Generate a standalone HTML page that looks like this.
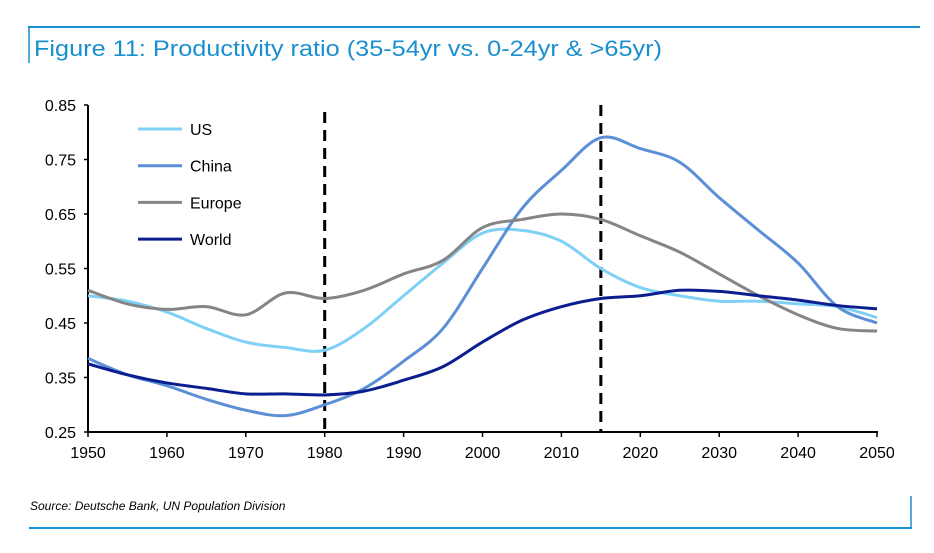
<!DOCTYPE html>
<html><head><meta charset="utf-8"><style>
body{margin:0;background:#fff;width:934px;height:553px;overflow:hidden;font-family:"Liberation Sans",Arial,sans-serif}
</style></head><body>
<svg width="934" height="553" style="position:absolute;left:0;top:0">
<line x1="28" y1="27" x2="920" y2="27" stroke="#1a8fcf" stroke-width="2"/>
<line x1="29" y1="27" x2="29" y2="63" stroke="#1a8fcf" stroke-width="1.5"/>
<text x="34" y="56" font-size="22" fill="#1a8fcf" textLength="628" lengthAdjust="spacingAndGlyphs">Figure 11: Productivity ratio (35-54yr vs. 0-24yr &amp; &gt;65yr)</text>
<g id="axes"></g>
<g id="series"></g>
<g id="legend"></g>
<text x="30" y="510" font-size="12" font-style="italic" fill="#000">Source: Deutsche Bank, UN Population Division</text>
<line x1="29" y1="528" x2="912" y2="528" stroke="#1a8fcf" stroke-width="2"/>
<line x1="911" y1="496" x2="911" y2="528" stroke="#1a8fcf" stroke-width="1.5"/>
</svg>
<script>
const years=[1950,1955,1960,1965,1970,1975,1980,1985,1990,1995,2000,2005,2010,2015,2020,2025,2030,2035,2040,2045,2050];
const usVals=[.50,.49,.47,.44,.415,.405,.40,.44,.50,.56,.615,.62,.60,.55,.515,.50,.49,.49,.485,.48,.46];
const chinaVals=[.385,.355,.335,.31,.29,.28,.30,.33,.38,.44,.55,.66,.73,.79,.77,.745,.68,.62,.56,.48,.45];
const europeVals=[.51,.485,.475,.48,.465,.505,.495,.51,.54,.565,.625,.64,.65,.64,.61,.58,.54,.50,.465,.44,.435];
const worldVals=[.375,.355,.34,.33,.32,.32,.318,.325,.345,.37,.415,.455,.48,.495,.50,.51,.508,.50,.492,.482,.476];
const yTicks=[0.25,0.35,0.45,0.55,0.65,0.75,0.85];
const xTicks=[1950,1960,1970,1980,1990,2000,2010,2020,2030,2040,2050];
const markerYears=[1980,2015];
const seriesNames=["US","China","Europe","World"];
const NS="http://www.w3.org/2000/svg";
const X=y=>88+(y-1950)*(877-88)/100;
const Y=v=>432-(v-0.25)*(432-105)/0.6;
function mk(t,a,p){const e=document.createElementNS(NS,t);for(const k in a)e.setAttribute(k,a[k]);p.appendChild(e);return e;}
const ax=document.getElementById('axes');
let l=mk('line',{x1:88,y1:105,x2:88,y2:433,stroke:'#000','stroke-width':2},ax);


l=mk('line',{x1:87,y1:432,x2:878,y2:432,stroke:'#000','stroke-width':2},ax);


yTicks.forEach(v=>{mk('line',{x1:84,y1:Y(v),x2:88,y2:Y(v),stroke:'#000','stroke-width':1.5},ax);
const t=mk('text',{x:76,y:Y(v)+6,'font-size':16,'text-anchor':'end'},ax);t.textContent=v.toFixed(2);

});
xTicks.forEach(v=>{mk('line',{x1:X(v),y1:432,x2:X(v),y2:437,stroke:'#000','stroke-width':1.5},ax);
const t=mk('text',{x:X(v),y:458,'font-size':16,'text-anchor':'middle'},ax);t.textContent=v;

});
markerYears.forEach((v,i)=>{const d=mk('line',{x1:X(v),y1:i?105:112,x2:X(v),y2:432,stroke:'#000','stroke-width':3,'stroke-dasharray':'11,7'},ax);

});
function path(vals){const p=years.map((y,i)=>[X(y),Y(vals[i])]);let d='M'+p[0][0]+','+p[0][1];
for(let i=0;i<p.length-1;i++){const p0=p[i-1]||p[i],p1=p[i],p2=p[i+1],p3=p[i+2]||p2;
d+=` C${p1[0]+(p2[0]-p0[0])/6},${p1[1]+(p2[1]-p0[1])/6} ${p2[0]-(p3[0]-p1[0])/6},${p2[1]-(p3[1]-p1[1])/6} ${p2[0]},${p2[1]}`;}return d;}
const colors=['#7fd0f5','#5b8fd6','#858585','#0b1e8f'];
const allVals=[usVals,chinaVals,europeVals,worldVals];
const sg=document.getElementById('series'),lg=document.getElementById('legend');
allVals.forEach((vals,i)=>{const p=mk('path',{d:path(vals),fill:'none',stroke:colors[i],'stroke-width':3},sg);


const ly=129+i*36.7;
const g=mk('g',{},lg);


mk('line',{x1:138,y1:ly,x2:182,y2:ly,stroke:colors[i],'stroke-width':3},g);
const t=mk('text',{x:190,y:ly+6,'font-size':16},g);t.textContent=seriesNames[i];});
</script>
</body></html>
